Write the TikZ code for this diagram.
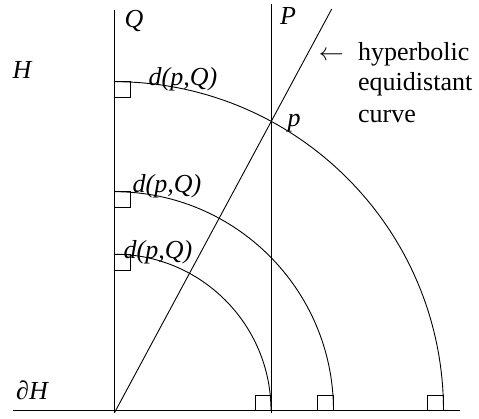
\documentclass[tikz,border=0pt]{standalone}
\usepackage{fontspec}
\setmainfont{Liberation Serif}
\usetikzlibrary{calc}
\begin{document}
\begin{tikzpicture}[x=1pt,y=1pt,
  geo/.style={line width=0.9pt,black},
  lbl/.style={inner sep=0pt,anchor=base,font=\fontsize{26}{31}\selectfont\itshape},
  txt/.style={inner sep=0pt,anchor=base west,font=\fontsize{26}{31}\selectfont}]
\useasboundingbox (0,0) rectangle (479,418);
% key points
\coordinate (O) at (114.5,7.3);
\coordinate (Qtop) at (114.5,408);
\coordinate (Pbot) at (271,5.5);
\coordinate (Ptop) at (271,414);
\coordinate (Lleft) at (13,7.3);
\coordinate (Lright) at (460,7.3);
\coordinate (p) at (271,296.7);
\coordinate (Send) at ($(O)!1.388!(p)$);
% lines
\draw[geo] (Lleft) -- (Lright);
\draw[geo] ($(O)+(0,-2)$) -- (Qtop);
\draw[geo] (Pbot) -- (Ptop);
\draw[geo] ($(O)+(0,-2)$) -- (Send);
% arcs with right-angle marks
\foreach \r in {329,219,156.5}{
  \draw[geo] ($(O)+(\r,0)$) arc[start angle=0,end angle=90,radius=\r pt];
  \draw[geo] ($(O)+(0,\r)$) rectangle ++(16,-16);
  \draw[geo] ($(O)+(\r,0)$) rectangle ++(-16,15);
}
% labels
\node[lbl] (Qlbl) at (134,390) {Q};
\node[lbl] (Plbl) at (288,393) {P};
\node[lbl] (Hlbl) at (22,339) {H};
\node[lbl] (dHlbl) at (32,19) {∂H};
\node[lbl] (plbl) at (294,291) {p};
\node[lbl] (d1) at (183,332) {d(p,Q)};
\node[lbl] (d2) at (167,225) {d(p,Q)};
\node[lbl] (d3) at (158,160) {d(p,Q)};
\node[inner sep=0pt,anchor=base east,font=\fontsize{25}{31}\selectfont] (arr) at (344,357) {$\leftarrow$};
\node[txt] (t1) at (358,357) {hyperbolic};
\node[txt] (t2) at (358,327.3) {equidistant};
\node[txt] (t3) at (358,295) {curve};
\end{tikzpicture}
\end{document}
